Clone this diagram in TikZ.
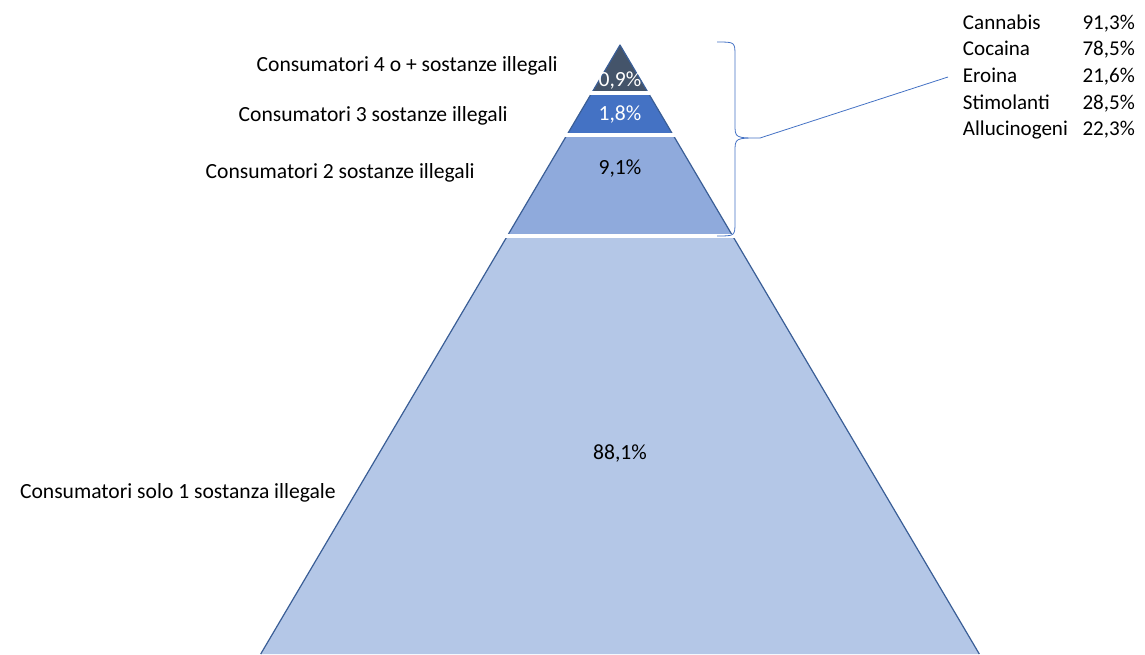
\documentclass[tikz,border=0pt]{standalone}
\usepackage{fontspec}
\setmainfont{Carlito}
\usepackage{tikz}
\usetikzlibrary{calc}

\definecolor{slatetop}{HTML}{44546A}
\definecolor{bluemid}{HTML}{4472C4}
\definecolor{bluelight}{HTML}{8FAADC}
\definecolor{bluepale}{HTML}{B4C7E7}
\definecolor{blueedge}{HTML}{3A5E96}

\tikzset{
    lbl/.style={inner sep=0pt, anchor=east, font=\fontsize{16.2}{20}\selectfont},
    pct/.style={inner sep=0pt, font=\fontsize{16.2}{20}\selectfont},
    gapline/.style={white, line width=2.6pt}
}

\begin{document}
\begin{tikzpicture}[x=0.75pt, y=-0.75pt]
\useasboundingbox (0,0) rectangle (1145,654);

% Pyramid bands
\begin{scope}
    \clip (620,45) -- (979.3,654) -- (260.7,654) -- cycle;
    \fill[slatetop] (0,40) rectangle (1145,93);
    \fill[bluemid] (0,93) rectangle (1145,135);
    \fill[bluelight] (0,135) rectangle (1145,236);
    \fill[bluepale] (0,236) rectangle (1145,660);
\end{scope}

% Pyramid sides
\draw[blueedge, line width=0.9pt, line join=round] (260.7,654) -- (620,45) -- (979.3,654);

% Gaps between bands
\foreach \y/\h in {93/28.3, 135/53.1, 236/112.7}
    \draw[gapline] (620-\h-2,\y) -- (620+\h+2,\y);

% Percentages
\node[pct, text=white] (p4) at (620,81) {0,9\%};
\node[pct, text=white] (p3) at (620,114) {1,8\%};
\node[pct] (p2) at (620,169) {9,1\%};
\node[pct] (p1) at (620,453) {88,1\%};

% Labels on the left
\node[lbl] (l4) at (558,66) {Consumatori 4 o + sostanze illegali};
\node[lbl] (l3) at (508,116) {Consumatori 3 sostanze illegali};
\node[lbl] (l2) at (475,173) {Consumatori 2 sostanze illegali};
\node[lbl] (l1) at (336,493) {Consumatori solo 1 sostanza illegale};

% Brace over the top three bands
\coordinate (tip) at (760,138);
\draw[bluemid, line width=0.6pt] (717,42) .. controls (735,42) .. (735,56)
    -- (735,124) .. controls (735,138) .. (tip)
    .. controls (735,138) .. (735,152) -- (735,222)
    .. controls (735,236) .. (717,236);

% Substances
\node[anchor=west, inner xsep=11pt, inner ysep=0pt,
      font=\fontsize{15.8}{20}\selectfont] (subst) at (948,77) {%
    \begin{tabular}{@{}l@{\hspace{11pt}}r@{}}
    Cannabis & 91,3\% \\
    Cocaina & 78,5\% \\
    Eroina & 21,6\% \\
    Stimolanti & 28,5\% \\
    Allucinogeni & 22,3\%
    \end{tabular}};
\draw[bluemid, line width=0.6pt] (tip) -- (subst.west);

\end{tikzpicture}
\end{document}
